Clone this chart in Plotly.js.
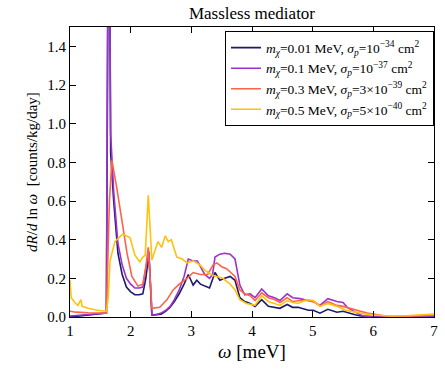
<!DOCTYPE html>
<html>
<head>
<meta charset="utf-8">
<script src="https://cdn.plot.ly/plotly-3.0.1.min.js"></script>
<style>
  body { margin: 0; background: #fff; }
  #chart { width: 445px; height: 372px; }
</style>
</head>
<body>
<div id="chart"></div>
<script>
// m_X = 0.01 MeV
var omega1 = [1.0,1.2,1.4,1.6,1.64,1.67,1.72,1.79,1.86,1.93,2.0,2.07,2.14,2.2,2.25,2.3,2.35,2.42,2.5,2.58,2.65,2.72,2.8,2.88,2.95,3.03,3.09,3.15,3.22,3.3,3.39,3.47,3.55,3.64,3.72,3.8,3.88,3.97,4.05,4.16,4.27,4.37,4.46,4.58,4.67,4.76,4.85,4.93,5.01,5.12,5.25,5.33,5.4,5.5,5.6,5.7,5.8,5.9,6.0,6.2,6.5,6.8,7.0];
var rate1 = [0.0,0.007,0.013,0.02,2.6,0.85,0.6,0.33,0.22,0.155,0.13,0.115,0.115,0.12,0.2,0.33,0.01,0.012,0.015,0.03,0.05,0.08,0.12,0.17,0.22,0.165,0.19,0.17,0.16,0.15,0.23,0.19,0.2,0.21,0.19,0.1,0.08,0.07,0.055,0.09,0.055,0.05,0.045,0.065,0.05,0.05,0.04,0.035,0.035,0.02,0.04,0.03,0.025,0.03,0.02,0.012,0.005,0.002,0.001,0.0,0.0,0.0,0.0];

// m_X = 0.1 MeV
var omega2 = [1.0,1.2,1.4,1.6,1.635,1.67,1.72,1.79,1.86,1.93,2.0,2.07,2.14,2.2,2.25,2.3,2.35,2.42,2.5,2.58,2.65,2.72,2.8,2.88,2.95,3.03,3.1,3.15,3.22,3.3,3.35,3.39,3.47,3.55,3.64,3.72,3.8,3.88,3.97,4.05,4.16,4.27,4.37,4.46,4.58,4.67,4.79,4.93,5.01,5.12,5.25,5.4,5.5,5.57,5.7,5.83,6.0,6.3,6.6,7.0];
var rate2 = [0.005,0.01,0.015,0.02,2.8,0.95,0.65,0.38,0.27,0.2,0.17,0.15,0.15,0.155,0.25,0.34,0.01,0.012,0.02,0.035,0.055,0.09,0.14,0.21,0.3,0.29,0.29,0.26,0.22,0.2,0.22,0.31,0.325,0.33,0.325,0.3,0.165,0.115,0.12,0.1,0.145,0.11,0.1,0.085,0.12,0.1,0.095,0.085,0.08,0.06,0.095,0.08,0.075,0.05,0.025,0.005,0.002,0.001,0.002,0.005];

// m_X = 0.3 MeV
var omega3 = [1.0,1.1,1.3,1.5,1.6,1.65,1.69,1.77,1.86,1.94,2.02,2.12,2.2,2.25,2.29,2.35,2.48,2.6,2.7,2.8,2.93,3.03,3.15,3.27,3.36,3.42,3.5,3.58,3.65,3.72,3.8,3.88,3.97,4.05,4.16,4.27,4.37,4.46,4.58,4.67,4.79,4.93,5.05,5.12,5.25,5.4,5.5,5.6,5.73,5.9,6.0,6.2,6.5,6.8,7.0];
var rate3 = [0.03,0.025,0.022,0.02,0.02,0.6,0.81,0.67,0.5,0.33,0.21,0.16,0.17,0.26,0.36,0.045,0.05,0.09,0.14,0.17,0.2,0.23,0.22,0.22,0.27,0.28,0.26,0.25,0.23,0.21,0.14,0.12,0.11,0.085,0.125,0.1,0.09,0.075,0.1,0.08,0.085,0.085,0.075,0.055,0.08,0.06,0.055,0.045,0.035,0.02,0.015,0.005,0.003,0.008,0.01];

// m_X = 0.5 MeV
var omega4 = [1.0,1.02,1.08,1.13,1.18,1.2,1.3,1.45,1.6,1.63,1.66,1.74,1.87,1.99,2.07,2.15,2.2,2.24,2.29,2.35,2.45,2.51,2.57,2.62,2.67,2.76,2.85,2.93,3.03,3.14,3.23,3.36,3.52,3.64,3.72,3.8,3.91,4.05,4.16,4.27,4.37,4.46,4.58,4.67,4.76,4.9,5.01,5.12,5.25,5.4,5.55,5.78,6.0,6.3,6.6,7.0];
var rate4 = [0.19,0.1,0.075,0.06,0.09,0.055,0.045,0.035,0.03,0.1,0.29,0.39,0.43,0.41,0.32,0.285,0.31,0.32,0.63,0.295,0.39,0.36,0.42,0.39,0.4,0.31,0.3,0.28,0.29,0.27,0.24,0.215,0.2,0.17,0.14,0.09,0.07,0.06,0.11,0.08,0.07,0.06,0.085,0.075,0.07,0.09,0.085,0.055,0.07,0.055,0.035,0.02,0.01,0.005,0.008,0.015];

var names = [
  "<i>m<sub>χ</sub></i>=0.01 MeV, <i>σ<sub>p</sub></i>=10<sup>−34</sup> cm<sup>2</sup>",
  "<i>m<sub>χ</sub></i>=0.1 MeV, <i>σ<sub>p</sub></i>=10<sup>−37</sup> cm<sup>2</sup>",
  "<i>m<sub>χ</sub></i>=0.3 MeV, <i>σ<sub>p</sub></i>=3×10<sup>−39</sup> cm<sup>2</sup>",
  "<i>m<sub>χ</sub></i>=0.5 MeV, <i>σ<sub>p</sub></i>=5×10<sup>−40</sup> cm<sup>2</sup>"
];
var colors = ["#1b1a6b", "#9933cc", "#ff6347", "#ffc20e"];
var xs = [omega1, omega2, omega3, omega4];
var ys = [rate1, rate2, rate3, rate4];

var data = xs.map((x, i) => ({
  x: x,
  y: ys[i],
  name: names[i],
  type: 'scatter',
  mode: 'lines',
  line: { color: colors[i], width: 1.6 }
}));

var serif = "Liberation Serif, DejaVu Serif, serif";

var layout = {
  width: 445,
  height: 372,
  margin: { l: 70, r: 11, t: 27, b: 55 },
  paper_bgcolor: "#fff",
  plot_bgcolor: "#fff",
  font: { family: serif, color: "#000", size: 15 },
  title: { text: "Massless mediator", font: { family: serif, size: 17 }, x: 0.5, xref: "paper", xanchor: "center", y: 0.965, yanchor: "middle" },
  showlegend: true,
  legend: {
    x: 1.0, xanchor: "right", y: 0.985, yanchor: "top",
    bordercolor: "#000", borderwidth: 1, bgcolor: "#fff",
    font: { family: serif, size: 13.5 },
    tracegroupgap: 0, itemwidth: 30
  },
  xaxis: {
    range: [1, 7],
    dtick: 1,
    ticks: "inside", ticklen: 6, tickcolor: "#000",
    showline: true, linecolor: "#000", linewidth: 1, mirror: "ticks",
    showgrid: false, zeroline: false,
    tickfont: { family: serif, size: 15 },
    title: { text: "<i>ω</i> [meV]", font: { family: serif, size: 19 }, standoff: 6 }
  },
  yaxis: {
    range: [0, 1.5],
    dtick: 0.2,
    tickformat: ".1f",
    ticks: "inside", ticklen: 6, tickcolor: "#000",
    showline: true, linecolor: "#000", linewidth: 1, mirror: "ticks",
    showgrid: false, zeroline: false,
    tickfont: { family: serif, size: 15 },
    title: { text: "<i>dR</i>/<i>d</i> ln <i>ω</i>  [counts/kg/day]", font: { family: serif, size: 15 }, standoff: 6 }
  }
};

Plotly.newPlot("chart", data, layout, { displayModeBar: false, staticPlot: true });
</script>
</body>
</html>
